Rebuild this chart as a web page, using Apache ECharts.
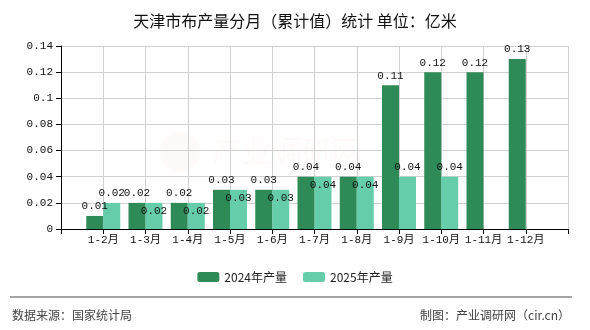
<!DOCTYPE html>
<html>
<head>
<meta charset="utf-8">
<script src="https://cdn.jsdelivr.net/npm/echarts@6/dist/echarts.min.js"></script>
<style>
  html, body { margin: 0; padding: 0; background: #fff; }
  #chart { width: 590px; height: 330px; }
</style>
</head>
<body>
<div id="chart"></div>
<script>
// 天津市布产量（累计值），单位：亿米
const categories = ['1-2月', '1-3月', '1-4月', '1-5月', '1-6月', '1-7月', '1-8月', '1-9月', '1-10月', '1-11月', '1-12月'];
const output2024 = [0.01, 0.02, 0.02, 0.03, 0.03, 0.04, 0.04, 0.11, 0.12, 0.12, 0.13];
const output2025 = [0.02, 0.02, 0.02, 0.03, 0.03, 0.04, 0.04, 0.04, 0.04, null, null];
const yTicks = [0, 0.02, 0.04, 0.06, 0.08, 0.1, 0.12, 0.14];

const numFont = 'Liberation Mono';
const cjkFont = '"Noto Sans CJK SC", sans-serif';

// blank slot at each end so the bars sit on the grid lines
const axisCats = [''].concat(categories, ['']);
const pad = arr => [null].concat(arr, [null]);

// when both years share a value, the 2025 label goes inside its bar
const data2025 = pad(output2025).map((v, i) => {
  const prev = pad(output2024)[i];
  if (v === null) return null;
  if (prev !== null && prev === v) {
    return { value: v, label: { position: 'insideTop', distance: 3 } };
  }
  return v;
});

const chart = echarts.init(document.getElementById('chart'), null, { renderer: 'canvas' });
chart.setOption({
  animation: false,
  backgroundColor: '#fff',
  title: {
    text: '天津市布产量分月（累计值）统计 单位：亿米',
    left: 'center',
    top: 8,
    textStyle: { fontFamily: cjkFont, fontSize: 16, fontWeight: 'normal', color: '#111' }
  },
  grid: { left: 61, right: 22, top: 46, bottom: 101 },
  legend: {
    bottom: 42,
    left: 'center',
    itemWidth: 22,
    itemHeight: 10,
    itemGap: 16,
    textStyle: { fontFamily: cjkFont, fontSize: 12, color: '#222' },
    data: ['2024年产量', '2025年产量']
  },
  xAxis: {
    type: 'category',
    data: axisCats,
    boundaryGap: false,
    axisLine: { lineStyle: { color: '#000' } },
    axisTick: { show: true, alignWithLabel: true, lineStyle: { color: '#000' } },
    axisLabel: { interval: 0, fontFamily: numFont + ', ' + cjkFont, fontSize: 11, color: '#111', margin: 6 },
    splitLine: { show: true, lineStyle: { color: '#d0d0d0' } }
  },
  yAxis: {
    type: 'value',
    min: yTicks[0],
    max: yTicks[yTicks.length - 1],
    interval: 0.02,
    axisLine: { show: true, lineStyle: { color: '#000' } },
    axisTick: { show: true, lineStyle: { color: '#000' } },
    axisLabel: { fontFamily: numFont, fontSize: 11, color: '#111', margin: 8 },
    splitLine: { show: true, lineStyle: { color: '#d0d0d0' } }
  },
  series: [
    {
      name: '2024年产量',
      type: 'bar',
      data: pad(output2024),
      barWidth: 17,
      barGap: '0%',
      itemStyle: { color: '#2e8b57' },
      label: { show: true, position: 'top', distance: 4, fontFamily: numFont, fontSize: 11, color: '#111' }
    },
    {
      name: '2025年产量',
      type: 'bar',
      data: data2025,
      barWidth: 17,
      itemStyle: { color: '#66cdaa' },
      label: { show: true, position: 'top', distance: 4, fontFamily: numFont, fontSize: 11, color: '#111' }
    }
  ],
  graphic: [
    {
      type: 'circle',
      shape: { cx: 180, cy: 152, r: 20 },
      z: 0,
      style: { fill: 'rgba(235,150,140,0.05)' }
    },
    {
      type: 'text',
      left: 212, top: 136, z: 0,
      style: { text: '产业调研网', fontFamily: cjkFont, fontSize: 30, fill: 'rgba(235,150,140,0.05)' }
    },
    {
      type: 'line',
      shape: { x1: 10, y1: 297, x2: 572, y2: 297 },
      style: { stroke: '#888', lineWidth: 1.5 }
    },
    {
      type: 'text',
      left: 12, top: 309,
      style: { text: '数据来源：国家统计局', fontFamily: cjkFont, fontSize: 12, fill: '#444' }
    },
    {
      type: 'text',
      right: 20, top: 309,
      style: { text: '制图：产业调研网（cir.cn）', fontFamily: cjkFont, fontSize: 12, fill: '#444' }
    }
  ]
});
</script>
</body>
</html>
